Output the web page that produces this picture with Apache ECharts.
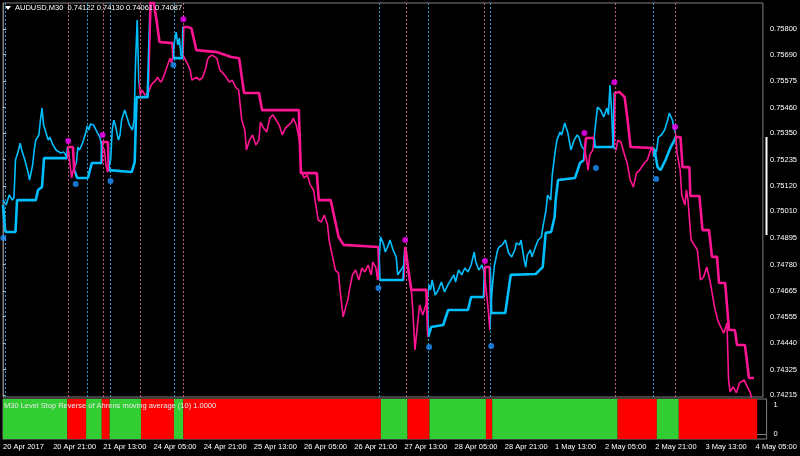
<!DOCTYPE html>
<html><head><meta charset="utf-8">
<script src="https://cdn.jsdelivr.net/npm/echarts@6/dist/echarts.min.js"></script>
<style>html,body{margin:0;padding:0;background:#000;}#c{width:800px;height:456px;}</style>
</head><body><div id="c"></div>
<script>
const xTickLabels = ['20 Apr 2017','20 Apr 21:00','21 Apr 13:00','24 Apr 05:00','24 Apr 21:00','25 Apr 13:00','26 Apr 05:00','26 Apr 21:00','27 Apr 13:00','28 Apr 05:00','28 Apr 21:00','1 May 13:00','2 May 05:00','2 May 21:00','3 May 13:00','4 May 05:00'];
const barsPerLabel = 32;
const yTickLabels = ['0.74215','0.74325','0.74440','0.74555','0.74665','0.74780','0.74895','0.75010','0.75120','0.75235','0.75350','0.75460','0.75575','0.75690','0.75800'];
const indTickLabels = ['0','1'];

// [bar index, close price]
const priceSeries = [[0,0.75059],[2,0.75038],[4,0.75081],[6,0.75059],[7,0.75068],[8,0.75233],[10,0.75276],[11,0.75306],[12,0.75276],[14,0.75233],[16,0.75181],[17,0.75146],[19,0.75211],[20,0.75276],[21,0.75319],[23,0.75341],[24,0.75406],[25,0.75458],[26,0.75384],[28,0.75341],[29,0.75319],[30,0.75332],[32,0.75298],[34,0.75276],[37,0.75263],[39,0.75267],[41,0.75246],
[42,0.75276],[43,0.75211],[44,0.75155],[45,0.75189],[47,0.75220],[48,0.75289],[49,0.75276],[51,0.75306],[53,0.75350],
[54,0.75380],[55,0.75363],[56,0.75389],[58,0.75384],[59,0.75371],[60,0.75363],[62,0.75332],
[63,0.75306],[65,0.75276],[66,0.75211],[67,0.75181],[68,0.75211],
[69,0.75233],[70,0.75363],[71,0.75406],[72,0.75384],[74,0.75319],[75,0.75341],[76,0.75406],[78,0.75449],[79,0.75428],[81,0.75384],[83,0.75363],[84,0.75406],[85,0.75666],[86,0.75839],[87,0.75579],
[88,0.75514],[89,0.75536],[91,0.75514],[93,0.75523],[95,0.75557],[96,0.75566],[98,0.75579],[99,0.75592],[101,0.75570],[102,0.75579],[104,0.75614],[105,0.75635],[107,0.75674],[108,0.75653],
[109,0.75687],[110,0.75752],[111,0.75787],[112,0.75731],[113,0.75761],[114,0.75687],
[116,0.75679],[118,0.75653],[120,0.75622],[121,0.75579],[124,0.75592],[126,0.75579],[128,0.75592],[130,0.75631],[131,0.75666],[132,0.75679],[134,0.75687],[137,0.75674],[139,0.75622],[141,0.75609],[143,0.75592],[145,0.75570],[147,0.75579],[149,0.75549],[151,0.75536],[153,0.75406],[155,0.75363],[156,0.75276],[158,0.75319],[160,0.75341],[162,0.75298],[164,0.75319],[165,0.75397],[167,0.75371],[169,0.75354],[171,0.75415],[173,0.75428],[175,0.75406],[177,0.75384],[179,0.75341],[181,0.75371],[183,0.75384],[185,0.75397],[186,0.75415],[188,0.75384],[190,0.75319],[191,0.75189],[193,0.75155],[195,0.75168],[197,0.75124],[199,0.75103],[200,0.75059],[202,0.74973],[204,0.74964],[206,0.74994],[208,0.74951],[209,0.74886],[211,0.74821],[213,0.74756],[215,0.74743],[216,0.74670],[218,0.74553],[220,0.74605],[221,0.74626],[222,0.74670],[224,0.74735],[226,0.74756],[228,0.74713],[230,0.74765],[232,0.74748],[234,0.74778],[236,0.74735],[237,0.74791],[239,0.74765],[240,0.74713],
[241,0.74800],[242,0.74899],[244,0.74865],[245,0.74834],[247,0.74865],[248,0.74886],[250,0.74843],[252,0.74813],[253,0.74735],[255,0.74756],[257,0.74778],
[258,0.74856],[259,0.74808],[260,0.74735],[262,0.74648],[263,0.74540],[264,0.74410],[266,0.74540],[267,0.74605],[269,0.74561],[271,0.74605],[272,0.74626],
[273,0.74691],[274,0.74670],[275,0.74713],[277,0.74648],[279,0.74670],[281,0.74704],[283,0.74661],[285,0.74691],[287,0.74713],[289,0.74735],[290,0.74704],[292,0.74756],[294,0.74735],[296,0.74765],[298,0.74748],[300,0.74778],[302,0.74834],[303,0.74791],[305,0.74756],[307,0.74778],
[308,0.74756],[309,0.74713],[311,0.74583],[312,0.74496],
[313,0.74626],[314,0.74713],[315,0.74778],[317,0.74843],[318,0.74856],[320,0.74865],[322,0.74886],[324,0.74830],[326,0.74813],[328,0.74843],[329,0.74873],[331,0.74865],[332,0.74886],[333,0.74843],[334,0.74800],[335,0.74769],[336,0.74821],[338,0.74843],[339,0.74813],[341,0.74852],[343,0.74886],[345,0.74899],[346,0.74942],[348,0.75016],[349,0.75081],[351,0.75059],[352,0.75168],[354,0.75276],[355,0.75319],[357,0.75354],[358,0.75341],[360,0.75393],[362,0.75350],[364,0.75276],[365,0.75298],[366,0.75319],[368,0.75341],[369,0.75332],[371,0.75289],
[373,0.75276],[374,0.75233],[375,0.75189],[376,0.75254],[378,0.75276],
[379,0.75341],[381,0.75462],[383,0.75449],[385,0.75419],[387,0.75458],[388,0.75428],[389,0.75557],[390,0.75449],[391,0.75289],
[393,0.75276],[394,0.75319],[396,0.75311],[398,0.75263],[400,0.75220],[402,0.75146],[404,0.75116],[406,0.75176],[408,0.75189],[411,0.75220],[413,0.75233],[415,0.75276],[416,0.75289],
[417,0.75246],[419,0.75276],[420,0.75332],[422,0.75341],[424,0.75363],[426,0.75406],[427,0.75436],[429,0.75406],[430,0.75371],
[431,0.75350],[432,0.75263],[434,0.75189],[435,0.75081],[437,0.75038],[438,0.75103],[439,0.75059],[441,0.74886],[443,0.74865],[445,0.74843],[447,0.74713],[449,0.74726],[451,0.74769],[453,0.74713],[456,0.74596],[458,0.74540],[460,0.74509],[462,0.74483],[464,0.74527],[465,0.74280],[466,0.74228],[468,0.74250],[470,0.74224],[472,0.74267],[475,0.74280],[477,0.74250],[479,0.74224],[480,0.74190],[481,0.74120]];

// [bar index, level stop value]
const stopSeries = [[0,0.75038],[1.5,0.74921],[8,0.74921],[9,0.75059],[21,0.75059],[22.5,0.75103],[25,0.75116],[26.3,0.75241],[41,0.75241],
[41.6,0.75289],[44.8,0.75289],[45.6,0.75189],
[47.6,0.75155],[54.4,0.75155],[56.9,0.75220],[63.2,0.75220],
[63.4,0.75311],[67.2,0.75311],[67.8,0.75189],
[68.4,0.75181],[82.5,0.75181],[84.4,0.75224],[85.6,0.75505],[92.7,0.75505],
[93.9,0.75505],[94.6,0.75917],[96.5,0.75917],[98.4,0.75839],[100.3,0.75744],[108.6,0.75739],
[109.2,0.75674],[115,0.75674],
[115.6,0.75809],[118.2,0.75809],[120.7,0.75804],[123.9,0.75709],[137.3,0.75700],[146.3,0.75679],[151.3,0.75674],[154.5,0.75523],[164.1,0.75523],[166,0.75449],[189.6,0.75449],[190.9,0.75176],[201.1,0.75176],[202.4,0.75059],[210,0.75059],[215.1,0.74899],[218.3,0.74865],[240.6,0.74856],
[241.3,0.74713],[256.6,0.74713],
[257.8,0.74856],[259.8,0.74756],[261.7,0.74670],[271.3,0.74670],
[272.5,0.74466],[274.4,0.74509],[282.1,0.74518],[285.3,0.74583],[298,0.74583],[300,0.74639],[308.2,0.74639],
[308.9,0.74769],[312,0.74769],
[312.9,0.74570],[321.9,0.74570],[325.4,0.74735],[341.4,0.74739],[345.9,0.74769],[347.8,0.74917],[351.3,0.74921],[353.5,0.74986],[354.2,0.75059],[355.7,0.75146],[366.6,0.75155],[369.8,0.75220],[372.3,0.75233],
[373,0.75233],[373.6,0.75328],[378.7,0.75328],
[379.3,0.75289],[391.2,0.75289],
[392,0.75523],[395.2,0.75527],[398.4,0.75505],[400.3,0.75406],[402.2,0.75289],[416.3,0.75285],
[417.6,0.75276],[419.5,0.75202],[421.4,0.75189],[424.6,0.75233],[427.9,0.75289],[430.4,0.75319],
[431,0.75332],[434.2,0.75332],[435.5,0.75202],[439.9,0.75202],[440.5,0.75077],[446.3,0.75077],[448.3,0.74929],[452.5,0.74929],[454.4,0.74813],[457.6,0.74813],[458.9,0.74700],[462.8,0.74700],[465.3,0.74496],[469.1,0.74496],[470.4,0.74431],[475.5,0.74431],[478.1,0.74288],[481.3,0.74288]];

// bars where the colour flips (starting uptrend)
const priceFlips = [41.3,46.7,63.0,68.1,87.2,108.9,115.3,240.9,257.2,272.2,307.9,312.4,372.3,378.7,392.1,416.6,430.4];
const stopFlips = [41.3,46.0,63.3,68.1,93.3,108.9,115.3,240.9,257.2,272.2,308.5,312.4,372.6,379.0,391.6,417.0,430.7];
// indicator pane (1 = up green, start up)
const indicatorStart = 0;
const indicatorFlips = [41,53,63,68,88,109,115,241,258,272,308,312,392,417,431];
const indicatorEnd = 481;

const upSignalBars = [1.3,53.9,68.9,109.7,241.3,272.5,312.0,416.8];
const downSignalBars = [41.8,64.1,88.0,115.4,258.5,308.2,392.4,430.6];
const upDots = [[0.2,0.74895],[46.6,0.75129],[68.9,0.75142],[109.2,0.75644],[240.6,0.74678],[273.1,0.74423],[312.9,0.74427],[380,0.75198],[418.6,0.75150]];
const downDots = [[41.8,0.75315],[63.8,0.75341],[115.6,0.75843],[257.8,0.74886],[308.9,0.74795],[372.6,0.75350],[391.8,0.75570],[430.7,0.75376]];

const UP = '#00BFFF', DN = '#FF1493';
const FONT = 'Liberation Sans', FS = 7.5, TXT = '#FFFFFF';

function pieces(flips){
  const e = [-100, ...flips, 10000];
  return e.slice(0,-1).map((a,i)=>({gte:a, lt:e[i+1], color: i%2===0?UP:DN}));
}
const indEdges = [indicatorStart, ...indicatorFlips, indicatorEnd];
const indAreas = indEdges.slice(0,-1).map((a,i)=>[
  {xAxis:a, itemStyle:{color: i%2===0?'#32CD32':'#FF0000'}},
  {xAxis:indEdges[i+1]}
]);

const chart = echarts.init(document.getElementById('c'), null, {renderer:'canvas'});
const plotW = 763.6;
chart.setOption({
  backgroundColor:'#000000',
  animation:false,
  textStyle:{fontFamily:FONT},
  title:[
    {text:'AUDUSD,M30  0.74122 0.74130 0.74061 0.74087', left:15, top:4, padding:0, textStyle:{color:TXT, fontSize:FS, fontWeight:'normal', fontFamily:FONT}},
    {text:'M30 Level Stop Reverse of Ahrens moving average (10) 1.0000', left:4, top:402, padding:0, textStyle:{color:'#E8E8E8', fontSize:FS, fontWeight:'normal', fontFamily:FONT}}
  ],
  graphic:[
    {type:'polygon', shape:{points:[[5,6],[11,6],[8,10]]}, style:{fill:'#FFFFFF'}, z:100},
    {type:'rect', shape:{x:765.5, y:137, width:2, height:98}, style:{fill:'#FFFFFF'}, z:100}
  ],
  grid:[
    {left:3, top:3, width:plotW, height:394, show:true, borderColor:'#808080', borderWidth:1, backgroundColor:'transparent'},
    {left:3, top:399, width:plotW, height:40, show:true, borderColor:'#808080', borderWidth:1, backgroundColor:'transparent'}
  ],
  xAxis:[
    {type:'value', gridIndex:0, min:0, max:487, show:false, splitLine:{show:false}},
    {type:'value', gridIndex:1, min:0, max:487, splitLine:{show:false},
     axisLine:{show:true, lineStyle:{color:'#808080'}},
     axisTick:{show:true, length:3, lineStyle:{color:'#C0C0C0'}, customValues: xTickLabels.map((_,i)=>i*barsPerLabel)},
     axisLabel:{show:true, color:TXT, fontSize:FS, fontFamily:FONT, align:'left', margin:4,
       customValues: xTickLabels.map((_,i)=>i*barsPerLabel),
       formatter:v=>xTickLabels[Math.round(v/barsPerLabel)] || ''}}
  ],
  yAxis:[
    {type:'value', gridIndex:0, position:'right', min:0.74206, max:0.75913, scale:true, splitLine:{show:false},
     axisLine:{show:true, lineStyle:{color:'#808080'}},
     axisTick:{show:true, length:3, lineStyle:{color:'#C0C0C0'}, customValues: yTickLabels.map(Number)},
     axisLabel:{show:true, color:TXT, fontSize:FS, fontFamily:FONT, margin:7,
       customValues: yTickLabels.map(Number),
       formatter:v=>{ let best=yTickLabels[0]; yTickLabels.forEach(l=>{ if(Math.abs(+l-v)<Math.abs(+best-v)) best=l; }); return best; }}},
    {type:'value', gridIndex:1, position:'right', min:-0.172, max:1.207, splitLine:{show:false},
     axisLine:{show:true, lineStyle:{color:'#808080'}},
     axisTick:{show:true, length:3, lineStyle:{color:'#C0C0C0'}, customValues:indTickLabels.map(Number)},
     axisLabel:{show:true, color:TXT, fontSize:FS, fontFamily:FONT, margin:7, customValues:indTickLabels.map(Number),
       formatter:v=>String(Math.round(v))}}
  ],
  visualMap:[
    {type:'piecewise', show:false, seriesIndex:2, dimension:0, pieces:pieces(priceFlips)},
    {type:'piecewise', show:false, seriesIndex:3, dimension:0, pieces:pieces(stopFlips)}
  ],
  series:[
    {type:'line', xAxisIndex:0, yAxisIndex:0, data:[], z:1, silent:true,
     markLine:{silent:true, symbol:'none', label:{show:false}, animation:false,
       lineStyle:{color:'#2A96D2', type:[2,2], width:1},
       data: upSignalBars.map(b=>({xAxis:b}))}},
    {type:'line', xAxisIndex:0, yAxisIndex:0, data:[], z:1, silent:true,
     markLine:{silent:true, symbol:'none', label:{show:false}, animation:false,
       lineStyle:{color:'#C05C86', type:[2,2], width:1},
       data: downSignalBars.map(b=>({xAxis:b}))}},
    {name:'price', type:'line', xAxisIndex:0, yAxisIndex:0, data:priceSeries, showSymbol:false, z:3,
     lineStyle:{width:1.6}},
    {name:'stop', type:'line', xAxisIndex:0, yAxisIndex:0, data:stopSeries, showSymbol:false, z:4,
     lineStyle:{width:2.6}},
    {name:'downDots', type:'scatter', xAxisIndex:0, yAxisIndex:0, data:downDots, symbolSize:6, z:5,
     itemStyle:{color:'#FF00FF'}},
    {name:'upDots', type:'scatter', xAxisIndex:0, yAxisIndex:0, data:upDots, symbolSize:6, z:5,
     itemStyle:{color:'#1E90FF'}},
    {name:'indicator', type:'line', xAxisIndex:1, yAxisIndex:1, data:[], silent:true,
     markArea:{silent:true, itemStyle:{opacity:1}, data:indAreas}}
  ]
});
</script></body></html>
